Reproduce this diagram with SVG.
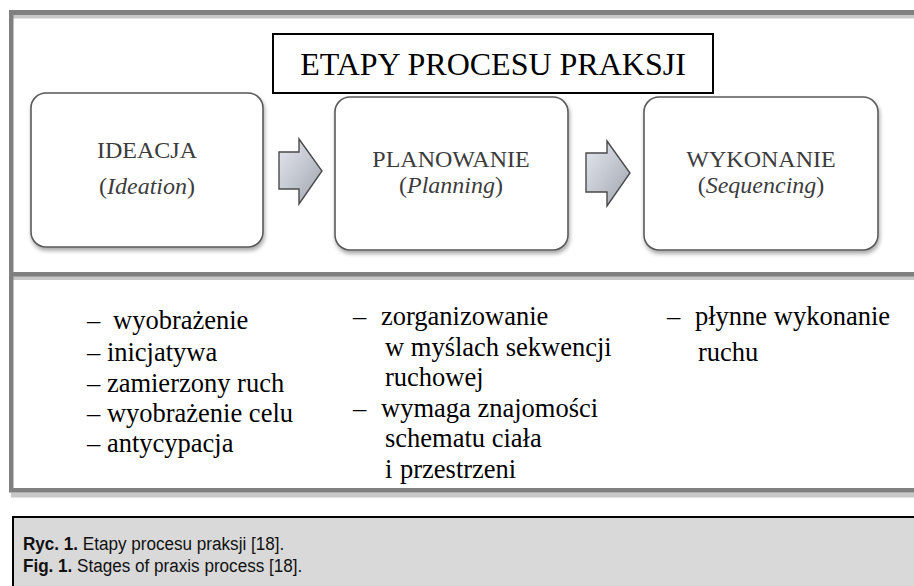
<svg xmlns="http://www.w3.org/2000/svg" width="914" height="586" viewBox="0 0 914 586">
<defs>
<style>
.frame{fill:#808080}
.shade{fill:#c8c8c8}
.box{fill:#ffffff;stroke:#5a5a5a;stroke-width:1.6}
.bt{font-family:"Liberation Serif","Times New Roman",serif;font-size:24px;fill:#3c3c3c;text-anchor:middle}
.it{font-style:italic}
.lt{font-family:"Liberation Serif","Times New Roman",serif;font-size:26.5px;fill:#000}
.cap{font-family:"Liberation Sans",Arial,sans-serif;font-size:19px;fill:#111}
.arrow{fill:url(#ag);stroke:#4a4a4a;stroke-width:1.4;stroke-linejoin:miter}
</style>
<linearGradient id="ag" x1="0" y1="0" x2="1" y2="1">
<stop offset="0" stop-color="#e4e7ee"/>
<stop offset="0.5" stop-color="#c3c7d0"/>
<stop offset="1" stop-color="#9ea2ab"/>
</linearGradient>
<filter id="sh" x="-10%" y="-10%" width="120%" height="125%">
<feGaussianBlur in="SourceAlpha" stdDeviation="2"/>
<feOffset dx="1" dy="3" result="b"/>
<feComponentTransfer><feFuncA type="linear" slope="0.35"/></feComponentTransfer>
<feMerge><feMergeNode/><feMergeNode in="SourceGraphic"/></feMerge>
</filter>
</defs>
<rect width="914" height="586" fill="#ffffff"/>

<g id="frame">
<rect class="shade" x="9" y="15" width="905" height="3.5"/>
<rect class="frame" x="9" y="10" width="905" height="5"/>
<rect class="shade" x="13" y="276" width="901" height="4"/>
<rect class="frame" x="9" y="272" width="905" height="4.5"/>
<rect class="shade" x="11" y="492.5" width="903" height="5"/>
<rect class="frame" x="9" y="488" width="905" height="4.5"/>
<rect class="frame" x="9" y="10" width="4.5" height="482"/>
</g>

<g id="title">
<rect x="273" y="34" width="440" height="59" fill="#ffffff" stroke="#000" stroke-width="2"/>
<text x="493" y="75" font-family="'Liberation Serif','Times New Roman',serif" font-size="32" fill="#000" text-anchor="middle">ETAPY PROCESU PRAKSJI</text>
</g>

<g id="connectors">
<path class="arrow" d="M279,152 H299 V139 L322,171 L299,204 V189 H279 Z"/>
<path class="arrow" d="M586,153 H607 V141 L630,173 L607,206 V192 H586 Z"/>
</g>

<g id="ideacja">
<rect class="box" x="31" y="93" width="232" height="154" rx="15" filter="url(#sh)"/>
<text class="bt" x="147" y="158">IDEACJA</text>
<text class="bt" x="147" y="194">(<tspan class="it">Ideation</tspan>)</text>
</g>

<g id="planowanie">
<rect class="box" x="335" y="97" width="233" height="153" rx="15" filter="url(#sh)"/>
<text class="bt" x="451" y="167">PLANOWANIE</text>
<text class="bt" x="451" y="193">(<tspan class="it">Planning</tspan>)</text>
</g>

<g id="wykonanie">
<rect class="box" x="644" y="97" width="234" height="153" rx="15" filter="url(#sh)"/>
<text class="bt" x="761" y="167">WYKONANIE</text>
<text class="bt" x="761" y="193">(<tspan class="it">Sequencing</tspan>)</text>
</g>

<g id="list-ideacja">
<text class="lt" x="87" y="329">–<tspan x="113">wyobrażenie</tspan></text>
<text class="lt" x="87" y="361">– inicjatywa</text>
<text class="lt" x="87" y="392">– zamierzony ruch</text>
<text class="lt" x="87" y="422">– wyobrażenie celu</text>
<text class="lt" x="87" y="452">– antycypacja</text>
</g>

<g id="list-planowanie">
<text class="lt" x="353" y="325">–<tspan x="381">zorganizowanie</tspan></text>
<text class="lt" x="385" y="356">w myślach sekwencji</text>
<text class="lt" x="385" y="386">ruchowej</text>
<text class="lt" x="353" y="417">–<tspan x="381">wymaga znajomości</tspan></text>
<text class="lt" x="385" y="447">schematu ciała</text>
<text class="lt" x="385" y="478">i<tspan x="400">przestrzeni</tspan></text>
</g>

<g id="list-wykonanie">
<text class="lt" x="667" y="325">–<tspan x="695">płynne wykonanie</tspan></text>
<text class="lt" x="698" y="361">ruchu</text>
</g>

<g id="caption">
<rect x="13" y="517" width="910" height="80" fill="#d9d9d9" stroke="#000" stroke-width="2"/>
<g transform="translate(23,0) scale(0.9,1)">
<text class="cap" x="0" y="550"><tspan font-weight="bold">Ryc. 1.</tspan> Etapy procesu praksji [18].</text>
<text class="cap" x="0" y="572"><tspan font-weight="bold">Fig. 1.</tspan> Stages of praxis process [18].</text>
</g>
</g>
</svg>
